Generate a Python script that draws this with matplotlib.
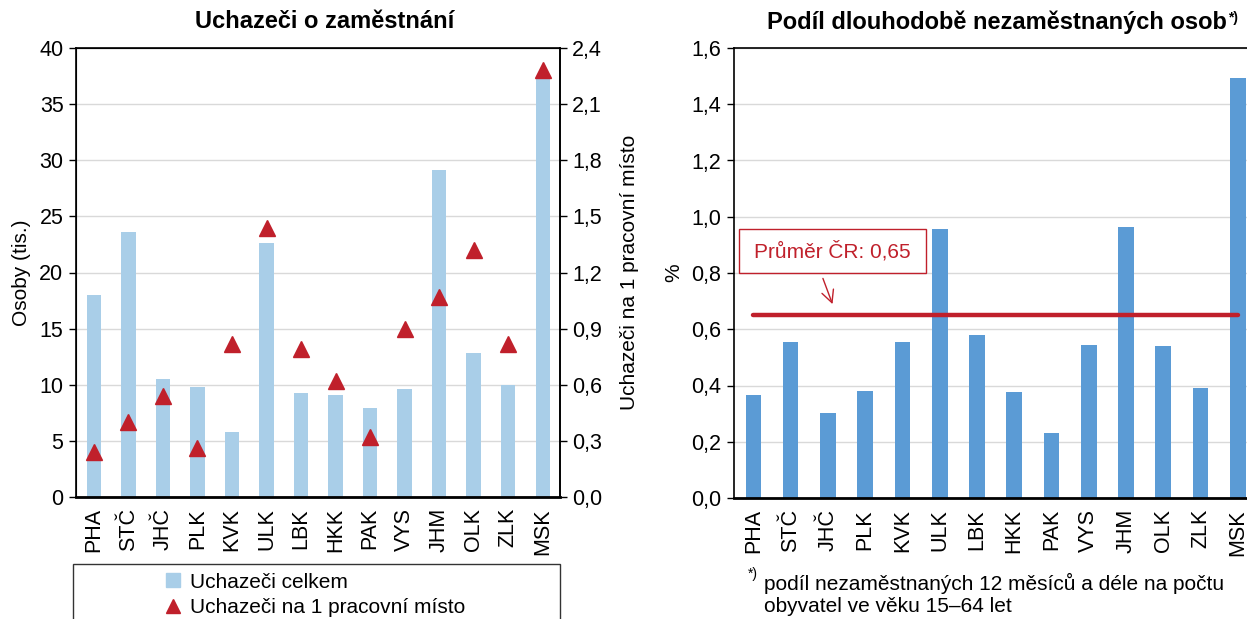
import matplotlib
matplotlib.use('Agg')
import matplotlib.pyplot as plt
import numpy as np
from matplotlib.lines import Line2D
from matplotlib.patches import Rectangle
from matplotlib.ticker import FuncFormatter, MultipleLocator

plt.rcParams['font.family'] = ['Liberation Sans', 'DejaVu Sans']

# data
regions = ['PHA', 'STČ', 'JHČ', 'PLK', 'KVK', 'ULK', 'LBK', 'HKK', 'PAK', 'VYS', 'JHM', 'OLK', 'ZLK', 'MSK']
uchazeci_celkem = [18.0, 23.6, 10.5, 9.8, 5.8, 22.6, 9.3, 9.1, 7.9, 9.6, 29.1, 12.8, 10.0, 37.3]
na_1_misto = [0.24, 0.40, 0.54, 0.26, 0.82, 1.44, 0.79, 0.62, 0.32, 0.90, 1.07, 1.32, 0.82, 2.28]
podil_dlouhodobe = [0.367, 0.555, 0.301, 0.379, 0.554, 0.958, 0.578, 0.376, 0.230, 0.544, 0.962, 0.542, 0.391, 1.495]
prumer_cr = 0.65

W, H = 1247, 619
light_blue = '#A9CEE8'
mid_blue = '#5B9BD5'
red = '#C0202B'
grid_c = '#D9D9D9'
fs = 15.5    # ticks
fs_txt = 15  # legend, notes
fs_title = 17

fig = plt.figure(figsize=(W / 100, H / 100), dpi=100)

def comma(dec):
    return FuncFormatter(lambda v, p: f'{v:.{dec}f}'.replace('.', ','))

x = np.arange(len(regions))

# ---- left chart ----
ax1 = fig.add_axes([76 / W, 1 - 497 / H, 483.5 / W, 449 / H])
ax1.bar(x, uchazeci_celkem, width=0.41, color=light_blue, zorder=2)
ax1.set_xlim(-0.52, 13.49)
ax1.set_ylim(0, 40)
ax1.yaxis.set_major_locator(MultipleLocator(5))
ax1.grid(axis='y', color=grid_c, lw=1, zorder=0)
ax1.set_axisbelow(True)
ax1.set_xticks(x)
ax1.set_xticklabels(regions, rotation=90, fontsize=fs)
ax1.tick_params(axis='x', length=0, pad=8)
ax1.tick_params(axis='y', labelsize=fs, direction='out', length=5, width=1, pad=4)
ax1.set_ylabel('Osoby (tis.)', fontsize=fs_txt, labelpad=6)
for s in ['left', 'right', 'top']:
    ax1.spines[s].set_linewidth(1.2)
ax1.spines['bottom'].set_linewidth(2)
fig.text(325 / W, 1 - 22 / H, 'Uchazeči o zaměstnání', fontsize=fs_title, fontweight='bold',
         ha='center', va='center')

ax1b = ax1.twinx()
ax1b.plot(x, na_1_misto, linestyle='none', marker='^', ms=11, color=red, zorder=3)
ax1b.set_ylim(0, 2.4)
ax1b.yaxis.set_major_locator(MultipleLocator(0.3))
ax1b.yaxis.set_major_formatter(comma(1))
ax1b.tick_params(axis='y', labelsize=fs, direction='out', length=5, width=1, pad=4)
ax1b.set_ylabel('Uchazeči na 1 pracovní místo', fontsize=fs_txt, labelpad=13)
ax1b.spines['right'].set_linewidth(1.2)

# legend in box
fig.patches.append(Rectangle((73 / W, -0.05), 486.5 / W, (619 - 564) / H + 0.05,
                             transform=fig.transFigure, fill=False, edgecolor='#333333', lw=1))
handles = [Line2D([], [], linestyle='none', marker='s', ms=10, color=light_blue),
           Line2D([], [], linestyle='none', marker='^', ms=10, color=red)]
fig.legend(handles, ['Uchazeči celkem', 'Uchazeči na 1 pracovní místo'], loc='upper left',
           bbox_to_anchor=(146 / W, 1 - 558 / H), frameon=False, fontsize=fs_txt,
           handletextpad=0.2, labelspacing=0.3, borderpad=0.2, handlelength=1.2)

# ---- right chart ----
ax2 = fig.add_axes([734 / W, 1 - 498 / H, 518 / W, 450 / H])
ax2.bar(x, podil_dlouhodobe, width=0.42, color=mid_blue, zorder=2)
ax2.plot([x[0], x[-1]], [prumer_cr, prumer_cr], color=red, lw=3.2, solid_capstyle='round', zorder=3)
ax2.set_xlim(-0.52, 13.38)
ax2.set_ylim(0, 1.6)
ax2.yaxis.set_major_locator(MultipleLocator(0.2))
ax2.yaxis.set_major_formatter(comma(1))
ax2.grid(axis='y', color=grid_c, lw=1, zorder=0)
ax2.set_axisbelow(True)
ax2.set_xticks(x)
ax2.set_xticklabels(regions, rotation=90, fontsize=fs)
ax2.tick_params(axis='x', length=0, pad=8)
ax2.tick_params(axis='y', labelsize=fs, direction='out', length=5, width=1, pad=4)
ax2.set_ylabel('%', fontsize=fs_txt, labelpad=6)
ax2.spines['right'].set_visible(False)
ax2.spines['left'].set_linewidth(1.2)
ax2.spines['top'].set_linewidth(1.2)
ax2.spines['bottom'].set_linewidth(2)

# average annotation box + arrow
ax2.add_patch(Rectangle((-0.386, 0.799), 5.006, 0.157, fill=False, edgecolor=red, lw=1, zorder=4, clip_on=False))
ax2.text(2.13, 0.878, 'Průměr ČR: 0,65', color=red, fontsize=fs_txt, ha='center', va='center', zorder=5)
ax2.annotate('', xy=(2.15, 0.68), xytext=(1.84, 0.79),
             arrowprops=dict(arrowstyle='->', color=red, lw=1, mutation_scale=22))

# right title with superscript
t = fig.text(997 / W, 1 - 22 / H, 'Podíl dlouhodobě nezaměstnaných osob', fontsize=fs_title,
             fontweight='bold', ha='center', va='center')
fig.canvas.draw()
bb = t.get_window_extent()
fig.text(bb.x1 / W + 0.001, (bb.y1 - 1) / H, '*)', fontsize=10, fontweight='bold', ha='left', va='top')

# footnote
fig.text(748 / W, 1 - 574 / H, '*)', fontsize=10, ha='left', va='center')
fig.text(764 / W, 1 - 583 / H, 'podíl nezaměstnaných 12 měsíců a déle na počtu', fontsize=fs_txt,
         ha='left', va='center')
fig.text(764 / W, 1 - 606 / H, 'obyvatel ve věku 15–64 let', fontsize=fs_txt, ha='left', va='center')

fig.savefig('out.png', dpi=100)
